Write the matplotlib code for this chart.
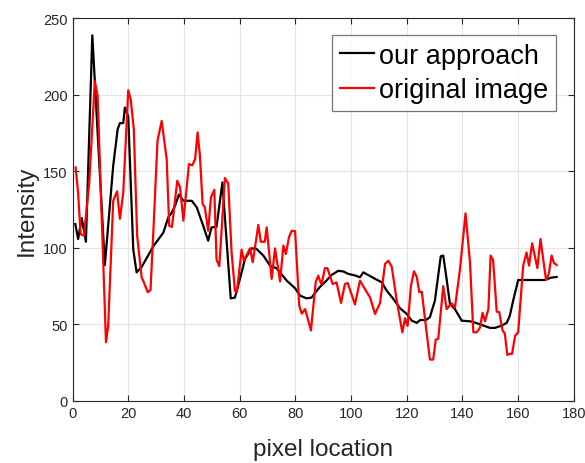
import matplotlib
matplotlib.use('Agg')
import matplotlib.pyplot as plt

plt.rcParams['font.family'] = ['Liberation Sans', 'DejaVu Sans']

# black curve (our approach)
ours_x = [1, 2, 3.3, 4.8, 7.1, 11.6, 14.6, 16.2, 17, 18.2, 18.8, 20, 21.8, 23, 24.8, 29, 32.6, 34.4,
          35.6, 36.8, 38.2, 39.8, 40.4, 42.8, 44.6, 46.7, 48.7, 49.9, 51.7, 53.8, 56.8, 58.3, 60.1,
          61.9, 64.3, 66, 68.5, 70.9, 73.3, 76.9, 79.9, 81.7, 84, 85.8, 87.7, 88.9, 90.6, 93, 95.4,
          97.2, 99, 101.4, 103.2, 104.4, 106.8, 109.2, 111, 112.8, 115.2, 117.6, 120, 121.8, 123.6,
          124.9, 126.8, 128.3, 130.1, 132.2, 133.1, 134.3, 135.5, 137.3, 139.7, 142.7, 144.3, 146.9,
          149.9, 151.7, 154.1, 155.9, 157, 158.2, 160, 169.6, 171.7, 173.8]
ours_y = [115.6, 105.8, 119.5, 104, 239, 88.8, 153.7, 177.6, 181.6, 181.6, 191.8, 186, 99, 84, 87.5,
          101, 110, 120, 123, 127.6, 134.8, 130.8, 130.8, 130.8, 126.5, 115.6, 104.7, 113.4, 113.7,
          142.8, 67, 67.5, 79.7, 92.7, 99.7, 99.4, 95, 88.4, 86.6, 78.6, 73.6, 68.8, 67, 67.5, 72,
          74.6, 77.5, 82.3, 85, 84.6, 83, 82, 80.8, 84, 81.6, 79.2, 77.5, 72, 66.6, 60.5, 56.8, 52.4,
          51, 52.9, 52.7, 54.7, 65.5, 94.5, 95, 79.7, 63.4, 60, 52.4, 52, 51.3, 49.6, 47.7, 47.7,
          49.2, 51, 55.7, 65.5, 79, 79, 80.5, 81]

# red curve (original image)
orig_x = [1.1, 2, 2.9, 4.1, 6, 8, 9, 12, 12.8, 14.6, 16, 17, 18.2, 20, 20.9, 22, 23.2, 24.8, 25.5,
          27, 28, 29, 30.5, 32, 33.8, 34.7, 35.7, 37.6, 38.6, 39.8, 41.8, 43, 44, 44.9, 45.7, 46.7,
          47.5, 48.7, 49.7, 50.9, 51.7, 52.7, 54.7, 55.9, 57.1, 58.3, 59, 60.7, 61.5, 63.7, 64.7,
          66.7, 67.6, 69, 69.7, 71.5, 72.7, 74.5, 75.7, 76.6, 77.7, 78.7, 79.9, 81.4, 82.3, 83.5,
          85.6, 87.3, 88.2, 89.4, 90.6, 91.5, 93.4, 94.8, 96.4, 97.8, 98.8, 101.4, 103.2, 105, 106.8,
          108.6, 110.4, 112.2, 113.4, 114.6, 116.4, 118.4, 119.4, 120.3, 121.5, 122.6, 123.6, 124.5,
          125.4, 126.9, 128.3, 129.5, 130.4, 131.3, 133.1, 134.3, 136.1, 137.3, 139.1, 141.1, 142.7,
          143.9, 145.1, 146.3, 147.2, 148.1, 149.3, 150.1, 151, 152.3, 153.2, 154.4, 155.2, 156.1,
          157, 157.8, 158.9, 160, 161.8, 163, 163.9, 165, 166.9, 168, 170, 171, 172, 172.8, 173.8]
orig_y = [152.6, 136, 109, 108, 142.8, 209, 199.4, 38.3, 49, 130.8, 137, 119, 136, 203, 197, 177.6,
          108, 80.8, 78, 71, 72.5, 110, 170, 183, 158, 114.5, 113.7, 143.9, 139.5, 117.8, 154.8, 154,
          158, 175.5, 161, 128.7, 126.6, 111.2, 133, 138, 92.3, 88, 145.7, 142, 97, 72, 71, 98.8,
          91.6, 99.7, 90.6, 115, 104, 104, 113.4, 79.7, 99.7, 78, 101.5, 96, 107, 111.2, 111, 62.3,
          57, 60, 46, 77.5, 81.8, 76, 86.7, 86.7, 76.4, 77.4, 64, 76.4, 77, 63, 78.6, 73, 67.7,
          56.8, 64, 89.5, 91.6, 87.7, 65.5, 44.8, 54, 49, 75.3, 84.7, 81, 71, 71.4, 48.1, 27, 27,
          40, 40.6, 75, 60, 63.8, 61, 86, 122.6, 90.6, 44.8, 44.8, 48, 57.5, 52, 60, 95, 92, 58.3,
          58, 46, 44, 30, 30.7, 30.7, 42.6, 44.8, 88.4, 97, 88.4, 103, 86.8, 105.8, 79, 83, 95,
          90.3, 88.8]

x_ticks = [0, 20, 40, 60, 80, 100, 120, 140, 160, 180]
y_ticks = [0, 50, 100, 150, 200, 250]

fig = plt.figure(figsize=(5.85, 4.64), dpi=100)
ax = fig.add_axes([0.124, 0.134, 0.857, 0.824])

ax.plot(ours_x, ours_y, color='black', lw=1.6, label='our approach')
ax.plot(orig_x, orig_y, color='#ff0000', lw=1.6, label='original image')

ax.set_xlim(0, 180)
ax.set_ylim(0, 250)
ax.set_xticks(x_ticks)
ax.set_yticks(y_ticks)
ax.grid(True, color='#e3e3e3', lw=0.8)
ax.set_axisbelow(True)
ax.tick_params(direction='in', top=True, right=True, labelsize=10.5, colors='#262626',
               length=4, width=0.8)
for s in ax.spines.values():
    s.set_color('#262626')
    s.set_linewidth(0.8)

ax.set_xlabel('pixel location', fontsize=17.5, color='#262626', labelpad=13)
ax.set_ylabel('Intensity', fontsize=17.5, color='#262626', labelpad=4)

# legend box sized like the original
leg = ax.legend(loc='upper right', bbox_to_anchor=(0.964, 0.956), fontsize=19.5, frameon=True,
                fancybox=False, edgecolor='#555555', handlelength=1.25, handletextpad=0.2,
                borderpad=0.28, labelspacing=0.3, borderaxespad=0.0)
leg.get_frame().set_linewidth(0.9)

fig.savefig('out.png', dpi=100)
